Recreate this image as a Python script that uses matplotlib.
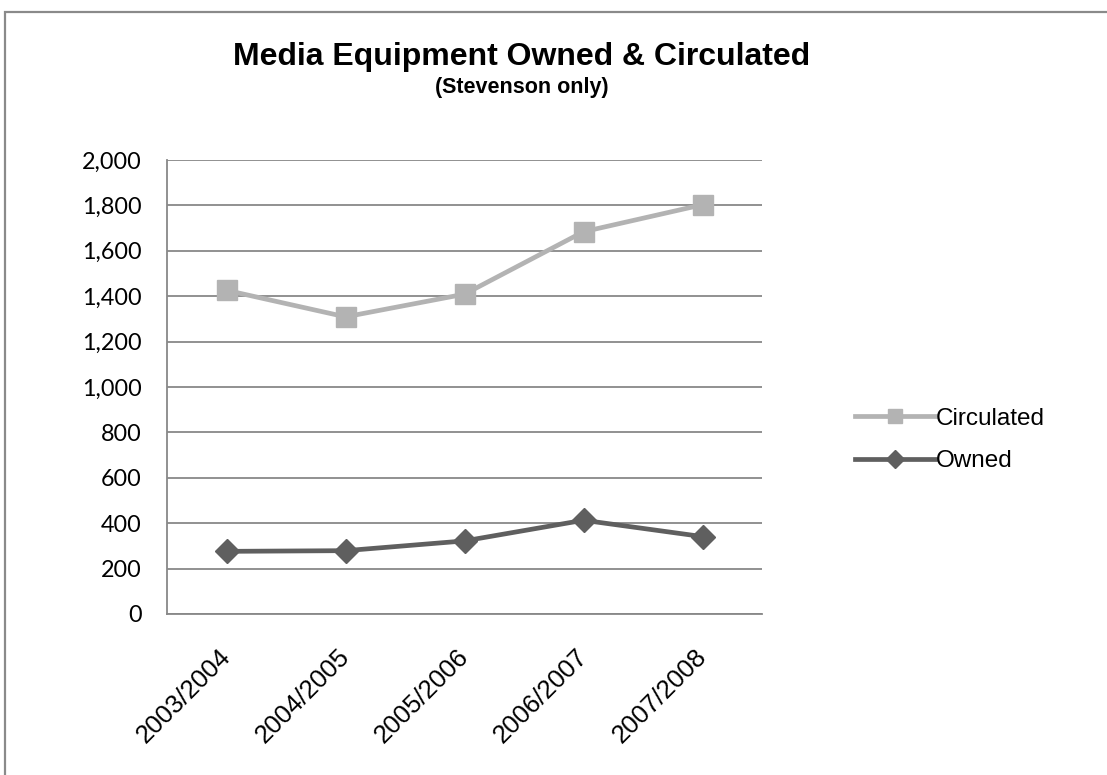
import matplotlib
matplotlib.use("Agg")
import matplotlib.pyplot as plt
from matplotlib.patches import Rectangle
from matplotlib.ticker import FuncFormatter, MultipleLocator

# School years and yearly counts of media equipment
years = ["2003/2004", "2004/2005", "2005/2006", "2006/2007", "2007/2008"]
circulated = [1426, 1309, 1409, 1684, 1803]
owned = [276, 279, 322, 413, 341]

W, H = 1107, 775
fig = plt.figure(figsize=(W / 100, H / 100), dpi=100)
fig.patch.set_facecolor("white")

# Chart frame (top and left edges visible)
fig.add_artist(Rectangle((5 / W, -0.1), 1.2, (H - 12) / H + 0.1,
                         transform=fig.transFigure, fill=False,
                         ec="#8a8a8a", lw=1.6))

left, right, top, bottom = 167, 762, 160, 614
ax = fig.add_axes([left / W, 1 - bottom / H, (right - left) / W, (bottom - top) / H])

x = list(range(len(years)))
ax.plot(x, circulated, color="#b3b3b3", lw=3.4, marker="s", ms=14,
        mec="#b3b3b3", mfc="#b3b3b3", label="Circulated", zorder=3)
ax.plot(x, owned, color="#5f5f5f", lw=3.4, marker="D", ms=12,
        mec="#5f5f5f", mfc="#5f5f5f", label="Owned", zorder=3)

ax.set_xlim(-0.5, len(years) - 0.5)
ax.set_ylim(0, 2000)
ax.yaxis.set_major_locator(MultipleLocator(200))
ax.yaxis.set_major_formatter(FuncFormatter(lambda v, p: f"{int(v):,}"))
ax.grid(axis="y", color="#888888", lw=1.3)
ax.set_axisbelow(True)

for s in ("top", "right"):
    ax.spines[s].set_visible(False)
for s in ("left", "bottom"):
    ax.spines[s].set_color("#888888")
    ax.spines[s].set_linewidth(1.3)

ax.tick_params(axis="both", length=0)
ax.tick_params(axis="y", pad=18)
ax.tick_params(axis="x", pad=28)
for t in ax.get_yticklabels():
    t.set_fontfamily("Lato")
    t.set_fontsize(16.8)
    t.set_color("black")

ax.set_xticks(x)
ax.set_xticklabels(years, rotation=45, ha="right", rotation_mode="anchor",
                   va="center", fontsize=18.5, fontfamily="Liberation Sans")

leg = ax.legend(loc="center left", bbox_to_anchor=(1.119, 0.383), frameon=False,
                prop={"family": "Liberation Sans", "size": 17.5},
                handlelength=3.3, handletextpad=0.05, labelspacing=0.85,
                markerscale=0.75)

fig.text(522 / W, 1 - 57 / H, "Media Equipment Owned & Circulated",
         ha="center", va="center", fontsize=23, fontweight="bold",
         fontfamily="Liberation Sans")
fig.text(522 / W, 1 - 87 / H, "(Stevenson only)",
         ha="center", va="center", fontsize=15.5, fontweight="bold",
         fontfamily="Liberation Sans")

fig.savefig("out.png", dpi=100)
